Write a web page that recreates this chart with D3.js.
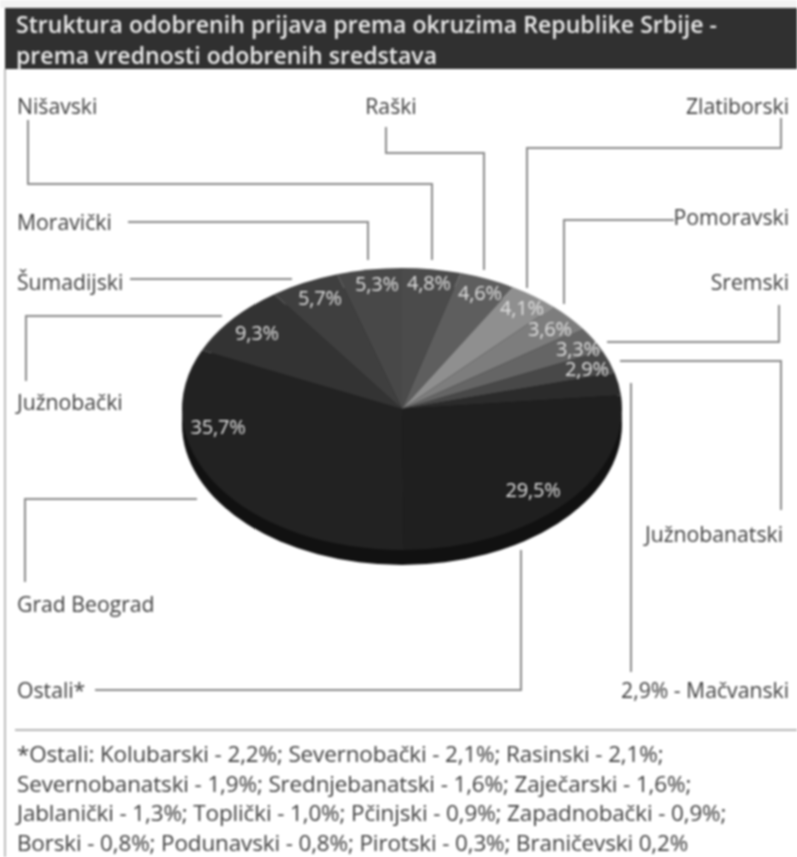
<!DOCTYPE html>
<html>
<head>
<meta charset="utf-8">
<script src="https://cdn.jsdelivr.net/npm/d3@7"></script>
<style>
html, body { margin: 0; padding: 0; background: #fff; }
svg { display: block; }
text { font-family: "Open Sans", "Noto Sans", sans-serif; }
.chart-layer { filter: blur(0.8px); }
</style>
</head>
<body>
<div id="chart"></div>
<script>
// vrednosti sa grafika, redom od 12 sati u smeru kazaljke
const districts = ["Nišavski", "Raški", "Zlatiborski", "Pomoravski", "Sremski", "Južnobanatski",
    "Mačvanski", "Ostali*", "Grad Beograd", "Južnobački", "Šumadijski", "Moravički"];
const shares = [4.8, 4.6, 4.1, 3.6, 3.3, 2.9, 2.9, 29.5, 35.7, 9.3, 5.7, 5.3];
const titleLines = ["Struktura odobrenih prijava prema okruzima Republike Srbije -",
    "prema vrednosti odobrenih sredstava"];
const footnoteLines = ["*Ostali: Kolubarski - 2,2%; Severnobački - 2,1%; Rasinski - 2,1%;",
    "Severnobanatski - 1,9%; Srednjebanatski - 1,6%; Zaječarski - 1,6%;",
    "Jablanički - 1,3%; Toplički - 1,0%; Pčinjski - 0,9%; Zapadnobački - 0,9%;",
    "Borski - 0,8%; Podunavski - 0,8%; Pirotski - 0,3%;  Braničevski 0,2%"];

// raspored (nije podatak)
const sliceColors = ["#4b4b4b", "#5e5e5e", "#8f8f8f", "#7d7d7d", "#656565", "#484848",
    "#2b2b2b", "#1f1f1f", "#222222", "#333333", "#3f3f3f", "#484848"];
const valuePos = [[429, 283], [480, 293], [522, 308], [550, 329], [578, 349], [587, 369],
    null, [533, 490], [218, 427], [257, 333], [320, 298], [377, 284]];
const namePos = [[17, 107, "start"], [391, 107, "middle"], [789, 107, "end"], [789, 218, "end"],
    [789, 283, "end"], [783, 535, "end"], [789, 691, "end"], [17, 691, "start"],
    [17, 605, "start"], [17, 403, "start"], [17, 283, "start"], [17, 223, "start"]];
const leaders = [
    [[28, 120], [28, 184], [432, 184], [432, 260]],
    [[386, 127], [386, 153], [484, 153], [484, 270]],
    [[781, 118], [781, 148], [527, 148], [527, 288]],
    [[674, 220], [564, 220], [564, 304]],
    [[779, 305], [779, 342], [607, 342]],
    [[620, 361], [781, 361], [781, 510]],
    [[631, 383], [631, 672]],
    [[95, 690], [521, 690], [521, 550]],
    [[197, 499], [25, 499], [25, 582]],
    [[222, 316], [26, 316], [26, 381]],
    [[130, 279], [292, 279]],
    [[128, 222], [368, 222], [368, 260]]
];

const width = 797, height = 857;
const cx = 402, cy = 409, rx = 220, ry = 141, depth = 15;

const svg = d3.select("#chart").append("svg").attr("width", width).attr("height", height);
const root = svg.append("g").attr("class", "chart-layer");

// okvir i naslov
root.append("rect").attr("x", 0).attr("y", 0).attr("width", width).attr("height", 8).attr("fill", "#f2f2f2");
root.append("rect").attr("x", 5).attr("y", 8).attr("width", 792).attr("height", 61).attr("fill", "#303030");
root.append("line").attr("x1", 5).attr("x2", 5).attr("y1", 69).attr("y2", 857)
    .attr("stroke", "#bdbdbd").attr("stroke-width", 2);
root.selectAll(".title").data(titleLines).join("text").attr("class", "title")
    .attr("x", 16).attr("y", (d, i) => 33 + i * 31)
    .attr("fill", "#ececec").attr("font-size", 23).attr("font-weight", 600)
    .attr("letter-spacing", 0.05)
    .text(d => d);

// vodece linije
const line = d3.line();
root.selectAll(".leader").data(leaders).join("path").attr("class", "leader")
    .attr("d", d => line(d)).attr("fill", "none").attr("stroke", "#8a8a8a").attr("stroke-width", 2);

// pita: krug se crta pa skalira u elipsu
const pie = d3.pie().sort(null).value(d => d)(shares);
const arc = d3.arc().innerRadius(0).outerRadius(rx);

const base = root.append("g").attr("transform", `translate(${cx},${cy + depth}) scale(1,${ry / rx})`);
base.append("circle").attr("r", rx).attr("fill", "#111");

const slices = root.append("g").attr("transform", `translate(${cx},${cy}) scale(1,${ry / rx})`);
slices.selectAll("path").data(pie).join("path")
    .attr("d", arc)
    .attr("fill", (d, i) => sliceColors[i]);

// procenti
const fmt = v => d3.format(".1f")(v).replace(".", ",") + "%";
const valueLabels = shares.map((v, i) => ({ v, pos: valuePos[i] })).filter(d => d.pos);
root.selectAll(".value").data(valueLabels).join("text").attr("class", "value")
    .attr("x", d => d.pos[0]).attr("y", d => d.pos[1] + 7)
    .attr("text-anchor", "middle").attr("fill", "#e0e0e0").attr("font-size", 20)
    .attr("letter-spacing", -0.2)
    .text(d => fmt(d.v));

// nazivi okruga
root.selectAll(".name").data(districts).join("text").attr("class", "name")
    .attr("x", (d, i) => namePos[i][0]).attr("y", (d, i) => namePos[i][1] + 7)
    .attr("text-anchor", (d, i) => namePos[i][2])
    .attr("fill", "#3c3c3c").attr("font-size", 21.2)
    .text((d, i) => d === "Mačvanski" ? `${fmt(shares[i])} - ${d}` : d);

// fusnota
root.append("line").attr("x1", 15).attr("x2", 797).attr("y1", 730).attr("y2", 730)
    .attr("stroke", "#b5b5b5").attr("stroke-width", 2);
root.selectAll(".note").data(footnoteLines).join("text").attr("class", "note")
    .attr("x", 17).attr("y", (d, i) => 762 + i * 29.5)
    .attr("fill", "#3c3c3c").attr("font-size", 22.4)
    .attr("letter-spacing", -0.1)
    .text(d => d);
</script>
</body>
</html>
